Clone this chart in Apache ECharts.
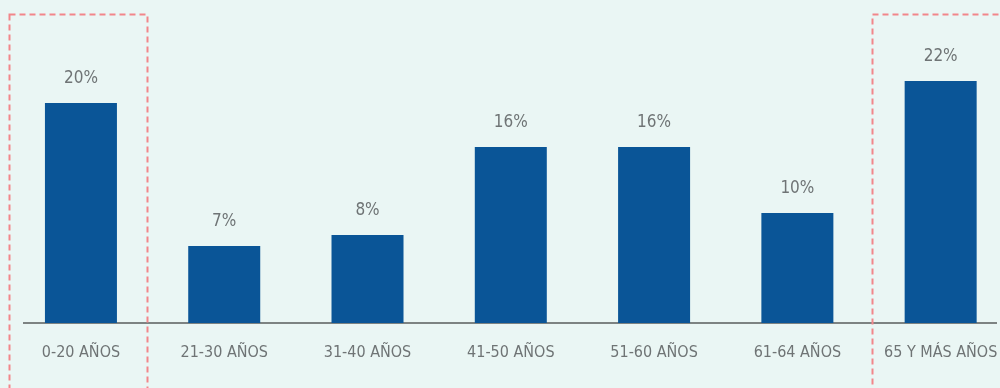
<!DOCTYPE html>
<html>
<head>
<meta charset="utf-8">
<script src="https://cdn.jsdelivr.net/npm/echarts@6/dist/echarts.min.js"></script>
<style>
html, body { margin: 0; padding: 0; background: #eaf6f4; }
#main { width: 1000px; height: 388px; }
</style>
</head>
<body>
<div id="main"></div>
<script>
const categories = ['0-20 AÑOS', '21-30 AÑOS', '31-40 AÑOS', '41-50 AÑOS', '51-60 AÑOS', '61-64 AÑOS', '65 Y MÁS AÑOS'];
const shares = [20, 7, 8, 16, 16, 10, 22];

const font = '"DejaVu Sans", sans-serif';

let myChart = echarts.init(document.getElementById('main'));
myChart.setOption({
    backgroundColor: '#eaf6f4',
    animation: false,
    grid: { left: 9.3, width: 1003, top: 37, bottom: 65, outerBoundsMode: 'none' },
    xAxis: {
        type: 'category',
        data: categories,
        axisLine: { show: false },
        axisTick: { show: false },
        axisLabel: {
            interval: 0,
            margin: 22,
            fontFamily: font,
            fontWeight: 'condensed',
            fontSize: 16,
            color: '#6f7475'
        }
    },
    yAxis: {
        type: 'value',
        min: 0,
        max: 26,
        show: false
    },
    series: [{
        type: 'bar',
        data: shares,
        barWidth: 72,
        itemStyle: { color: '#0a5597' },
        label: {
            show: true,
            position: 'top',
            distance: 16,
            formatter: '{c}%',
            fontFamily: font,
            fontWeight: 'condensed',
            fontSize: 17,
            color: '#6f7475'
        }
    }],
    graphic: [
        // baseline
        {
            type: 'line',
            shape: { x1: 23, y1: 323, x2: 997, y2: 323 },
            style: { stroke: '#7d8382', lineWidth: 2 }
        },
        // highlight boxes
        {
            type: 'rect',
            shape: { x: 9.5, y: 14.5, width: 138, height: 400 },
            style: { fill: 'none', stroke: '#f2868a', lineWidth: 2, lineDash: [6, 4] }
        },
        {
            type: 'rect',
            shape: { x: 872.5, y: 14.5, width: 160, height: 400 },
            style: { fill: 'none', stroke: '#f2868a', lineWidth: 2, lineDash: [6, 4] }
        }
    ]
});
</script>
</body>
</html>
